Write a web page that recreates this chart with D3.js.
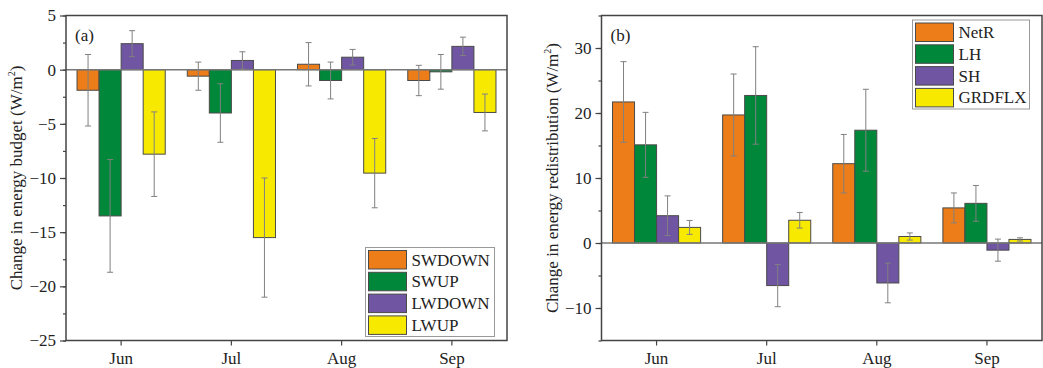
<!DOCTYPE html>
<html>
<head>
<meta charset="utf-8">
<script src="https://cdn.jsdelivr.net/npm/d3@7"></script>
<style>
    body { margin: 0; background: white; }
    svg { display: block; font-family: "Liberation Serif", "Times New Roman", serif; }
</style>
</head>
<body>
<script>
const months = ["Jun", "Jul", "Aug", "Sep"]

// panel (a) energy budget
const budgetNames = ["SWDOWN", "SWUP", "LWDOWN", "LWUP"]
const swdown = [-1.9, -0.6, 0.5, -1.0]
const swdownErr = [3.3, 1.3, 2.0, 1.4]
const swup = [-13.5, -4.0, -1.0, -0.2]
const swupErr = [5.2, 2.7, 1.7, 1.6]
const lwdown = [2.4, 0.85, 1.15, 2.15]
const lwdownErr = [1.2, 0.8, 0.72, 0.85]
const lwup = [-7.8, -15.5, -9.55, -3.95]
const lwupErr = [3.9, 5.5, 3.2, 1.7]
const budgetTicks = [5, 0, -5, -10, -15, -20, -25]

// panel (b) energy redistribution
const redistNames = ["NetR", "LH", "SH", "GRDFLX"]
const netr = [21.7, 19.7, 12.2, 5.4]
const netrErr = [6.2, 6.3, 4.5, 2.3]
const lh = [15.1, 22.7, 17.35, 6.1]
const lhErr = [5.0, 7.5, 6.3, 2.75]
const sh = [4.2, -6.55, -6.15, -1.1]
const shErr = [3.05, 3.25, 3.05, 1.7]
const grdflx = [2.4, 3.5, 1.0, 0.55]
const grdflxErr = [1.07, 1.2, 0.55, 0.25]
const redistTicks = [30, 20, 10, 0, -10]

const colors = ["#EC7D19", "#00873A", "#6F55A2", "#F7EA00"]

const svg = d3.select("body").append("svg")
    .attr("width", 1043)
    .attr("height", 368)

function drawPanel(opt) {
    const x0 = opt.left, x1 = opt.right, y0 = 15.5, y1 = 340.5
    const g = svg.append("g")

    const xScale = d3.scaleBand().domain(months).range([x0, x1]).paddingInner(0.2).paddingOuter(0.1)
    const sub = d3.scaleBand().domain(opt.names).range([0, xScale.bandwidth()])
    const yScale = d3.scaleLinear().domain(opt.domain).range([y1, y0])

    const rows = []
    opt.values.forEach((vals, si) => {
        vals.forEach((v, mi) => {
            rows.push({ month: months[mi], name: opt.names[si], value: v, err: opt.errs[si][mi], si: si })
        })
    })

    g.selectAll("rect.bar")
        .data(rows).enter()
        .append("rect")
        .attr("class", "bar")
        .attr("x", d => xScale(d.month) + sub(d.name))
        .attr("width", sub.bandwidth())
        .attr("y", d => yScale(Math.max(0, d.value)))
        .attr("height", d => Math.abs(yScale(d.value) - yScale(0)))
        .attr("fill", d => colors[d.si])
        .attr("stroke", "#4a4a4a")
        .attr("stroke-width", 1)

    // zero line
    g.append("line")
        .attr("x1", x0).attr("x2", x1)
        .attr("y1", yScale(0)).attr("y2", yScale(0))
        .attr("stroke", "#777")
        .attr("stroke-width", 1.5)

    // error bars
    const eb = g.selectAll("g.err").data(rows).enter().append("g")
        .attr("stroke", "#808080")
        .attr("stroke-width", 1)
    const cx = d => xScale(d.month) + sub(d.name) + sub.bandwidth() / 2
    eb.append("line")
        .attr("x1", cx).attr("x2", cx)
        .attr("y1", d => yScale(d.value + d.err))
        .attr("y2", d => yScale(d.value - d.err))
    eb.append("line")
        .attr("x1", d => cx(d) - 3).attr("x2", d => cx(d) + 3)
        .attr("y1", d => yScale(d.value + d.err)).attr("y2", d => yScale(d.value + d.err))
    eb.append("line")
        .attr("x1", d => cx(d) - 3).attr("x2", d => cx(d) + 3)
        .attr("y1", d => yScale(d.value - d.err)).attr("y2", d => yScale(d.value - d.err))

    // frame
    g.append("rect")
        .attr("x", x0).attr("y", y0)
        .attr("width", x1 - x0).attr("height", y1 - y0)
        .attr("fill", "none")
        .attr("stroke", "#444")
        .attr("stroke-width", 1.5)

    // axes
    const minor = []
    for (let v = opt.domain[0]; v <= opt.domain[1]; v += opt.step / 2) minor.push(v)
    g.append("g")
        .attr("transform", `translate(${x0},0)`)
        .call(d3.axisLeft(yScale).tickValues(minor).tickSize(3).tickFormat(""))
        .call(a => a.select(".domain").remove())
    const yAxis = g.append("g")
        .attr("transform", `translate(${x0},0)`)
        .call(d3.axisLeft(yScale).tickValues(opt.ticks).tickSize(6).tickPadding(4))
    yAxis.select(".domain").remove()

    const xAxis = g.append("g")
        .attr("transform", `translate(0,${y1})`)
        .call(d3.axisBottom(xScale).tickSize(5).tickPadding(6))
    xAxis.select(".domain").remove()

    g.selectAll(".tick line").attr("stroke", "#444").attr("stroke-width", 1.2)
    g.selectAll(".tick text")
        .attr("font-family", "Liberation Serif, Times New Roman, serif")
        .attr("font-size", 17)
        .attr("fill", "#222")

    // panel letter
    g.append("text")
        .attr("x", x0 + 9).attr("y", 41)
        .attr("font-size", 17)
        .attr("fill", "#222")
        .text(opt.letter)

    // y label
    const lab = g.append("text")
        .attr("transform", `translate(${opt.labelX},${(y0 + y1) / 2}) rotate(-90)`)
        .attr("text-anchor", "middle")
        .attr("font-size", 17)
        .attr("fill", "#222")
    lab.append("tspan").text(opt.label + " (W/m")
    lab.append("tspan").attr("font-size", 10).attr("dy", -7).text("2")
    lab.append("tspan").attr("dy", 7).text(")")

    // legend
    const lg = g.append("g").attr("transform", `translate(${opt.legX},${opt.legY})`)
    lg.append("rect")
        .attr("width", opt.legW).attr("height", 89)
        .attr("fill", "white")
        .attr("stroke", "#999")
        .attr("stroke-width", 1)
    opt.names.forEach((n, i) => {
        lg.append("rect")
            .attr("x", 3).attr("y", 3 + i * 21.8)
            .attr("width", 38).attr("height", 18.5)
            .attr("fill", colors[i])
            .attr("stroke", "#4a4a4a")
        lg.append("text")
            .attr("x", 46).attr("y", 18 + i * 21.8)
            .attr("font-size", 17)
            .attr("fill", "#222")
            .text(n)
    })
}

drawPanel({
    left: 66, right: 507,
    domain: [-25, 5], step: 5,
    ticks: budgetTicks,
    names: budgetNames,
    values: [swdown, swup, lwdown, lwup],
    errs: [swdownErr, swupErr, lwdownErr, lwupErr],
    letter: "(a)",
    label: "Change in energy budget",
    labelX: 22,
    legX: 365.5, legY: 247.5, legW: 129
})

drawPanel({
    left: 601.5, right: 1042,
    domain: [-15, 35], step: 10,
    ticks: redistTicks,
    names: redistNames,
    values: [netr, lh, sh, grdflx],
    errs: [netrErr, lhErr, shErr, grdflxErr],
    letter: "(b)",
    label: "Change in energy redistribution",
    labelX: 558,
    legX: 912.5, legY: 20, legW: 117
})
</script>
</body>
</html>
